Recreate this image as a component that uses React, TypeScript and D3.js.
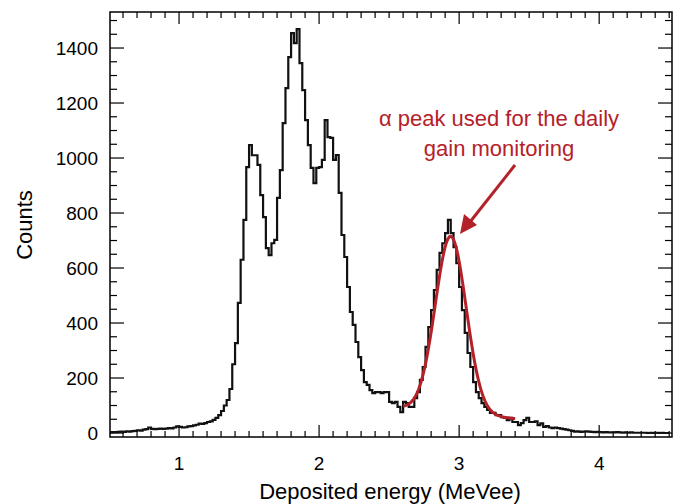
import React from "react";
import * as d3 from "d3";

const binStart = 0.5;
const binWidth = 0.02;
const counts = [
  2,3,3,4,5,4,6,5,7,8,
  10,9,12,14,20,15,14,15,16,15,
  16,18,17,20,24,22,20,21,24,25,
  28,30,34,33,36,40,42,48,55,65,
  80,100,120,160,250,327,473,630,775,967,
  1047,1010,1010,975,865,785,672,647,690,702,
  855,956,1127,1254,1367,1454,1418,1469,1345,1247,
  1138,1047,964,909,964,967,993,1138,1076,1073,
  993,1011,873,720,640,531,440,393,331,276,
  229,185,175,156,145,149,149,145,149,149,
  113,109,113,95,76,113,109,95,95,127,
  149,193,240,313,385,447,520,593,655,690,
  727,775,727,676,618,531,447,364,291,240,
  185,149,127,109,95,84,73,73,65,65,
  58,55,47,55,40,40,29,36,47,55,
  40,40,42,29,35,22,25,20,18,20,
  18,16,14,12,10,8,5,6,4,5,
  6,5,4,3,4,3,2,3,2,2,
  2,3,2,1,2,1,2,1,1,1,
  1,1,0,1,0,1,0,1,0,0,
];
// Gaussian + linear background fit
const fitRange = [2.6, 3.4];
const fitAmp = 640;
const fitMean = 2.94;
const fitSigma = 0.11;
const fitBg0 = 92; // at 2.6
const fitBg1 = 52; // at 3.4
const xTicks = [1, 2, 3, 4];
const yTicks = [0, 200, 400, 600, 800, 1000, 1200, 1400];

const W = 684, H = 504;
const L = 110, R = 672, T = 12, B = 437;
const red = "#b52128";

export default function App() {
  const x = d3.scaleLinear().domain([0.507, 4.52]).range([L, R]);
  const y = d3.scaleLinear().domain([-14.5, 1531]).range([B, T]);
  let d = "";
  counts.forEach((c, i) => {
    const x0 = x(binStart + i * binWidth), x1 = x(binStart + (i + 1) * binWidth);
    const yy = y(c);
    d += (i === 0 ? `M${x0},${y(0)}L${x0},${yy}` : `L${x0},${yy}`) + `L${x1},${yy}`;
  });
  const fitPts = d3.range(fitRange[0], fitRange[1] + 1e-9, 0.005).map(e => {
    const bg = fitBg0 + (fitBg1 - fitBg0) * (e - fitRange[0]) / (fitRange[1] - fitRange[0]);
    return [e, bg + fitAmp * Math.exp(-0.5 * ((e - fitMean) / fitSigma) ** 2)] as [number, number];
  });
  const fitLine = d3.line<[number, number]>().x(p => x(p[0])).y(p => y(p[1]))(fitPts)!;
  const xMinor = d3.range(0.6, 4.51, 0.1);
  const yMinor = d3.range(0, 1501, 50);
  const font = "Liberation Sans, Arial, sans-serif";
  return (
    <svg width={W} height={H} style={{ position: "absolute", left: 0, top: 0 }} fontFamily={font}>
      <defs>
        <clipPath id="c"><rect x={L} y={T} width={R - L} height={B - T} /></clipPath>
      </defs>
      <rect x={0} y={0} width={W} height={H} fill="white" />
      <g stroke="black" strokeWidth={1.2}>
        {xMinor.map(v => {
          const major = Math.abs(v - Math.round(v)) < 1e-6;
          const len = major ? 12 : 6;
          return <g key={v}>
            <line x1={x(v)} x2={x(v)} y1={B} y2={B - len} />
            <line x1={x(v)} x2={x(v)} y1={T} y2={T + len} />
          </g>;
        })}
        {yMinor.map(v => {
          const major = v % 200 === 0;
          const len = major ? 14 : 7;
          return <g key={v}>
            <line x1={L} x2={L + len} y1={y(v)} y2={y(v)} />
            <line x1={R} x2={R - len} y1={y(v)} y2={y(v)} />
          </g>;
        })}
      </g>
      <path d={d} fill="none" stroke="#111" strokeWidth={2.2} clipPath="url(#c)" />
      <path d={fitLine} fill="none" stroke={red} strokeWidth={3} />
      <rect x={L} y={T} width={R - L} height={B - T} fill="none" stroke="black" strokeWidth={1.5} />
      {xTicks.map(v => <text key={v} x={x(v)} y={470} textAnchor="middle" fontSize={19}>{v}</text>)}
      {yTicks.map(v => <text key={v} x={98} y={y(v) + 7} textAnchor="end" fontSize={19}>{v}</text>)}
      <text x={390} y={499} textAnchor="middle" fontSize={22}>Deposited energy (MeVee)</text>
      <text transform="translate(32,225) rotate(-90)" textAnchor="middle" fontSize={22}>Counts</text>
      <text x={499} y={126} textAnchor="middle" fontSize={22} fill={red}>α peak used for the daily</text>
      <text x={499} y={156} textAnchor="middle" fontSize={22} fill={red}>gain monitoring</text>
      <line x1={515} y1={165} x2={470} y2={222} stroke={red} strokeWidth={3} />
      <path d="M460,234 L464,214 L477,225 Z" fill={red} />
    </svg>
  );
}
